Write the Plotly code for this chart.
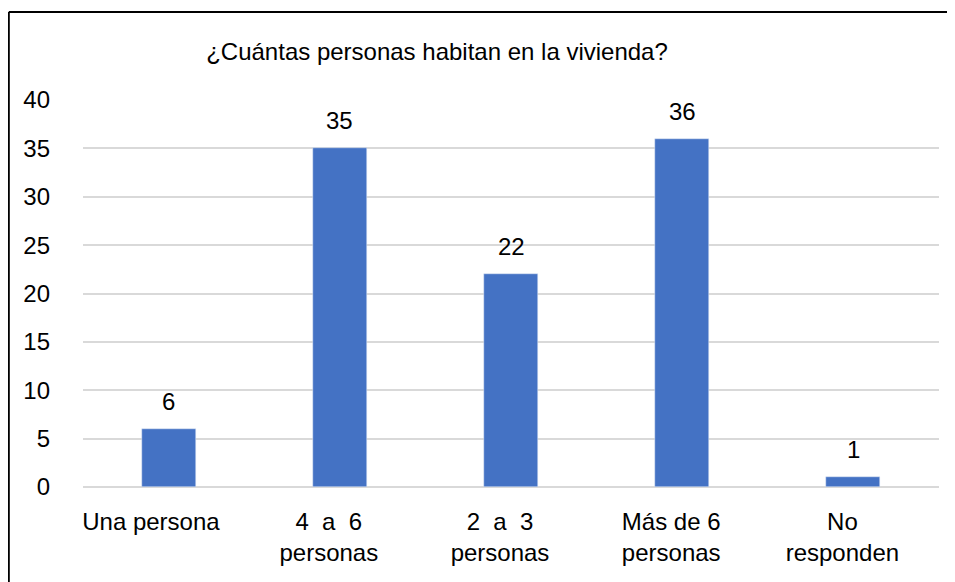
import plotly.graph_objects as go

categories = ["Una persona\u00a0\u00a0", "4  a  6<br>personas", "2  a  3<br>personas", "Más de 6<br>personas", "No<br>responden"]
values = [6, 35, 22, 36, 1]
y_ticks = [0, 5, 10, 15, 20, 25, 30, 35, 40]

FONT = "Liberation Sans, Arial, sans-serif"
# page body has an 8px margin; figure is offset by it and overflow is hidden
W, H = 955, 582
L, R, T, B = 75, 24, 92, 103
pw = W - L - R
ph = H - T - B

def nb(s):
    return s.replace(" ", "\u00a0")

fig = go.Figure(go.Bar(
    x=list(range(len(categories))),
    y=values,
    marker_color="#4472C4",
    width=0.316,
    hoverinfo="skip",
))

for i, v in enumerate(values):
    fig.add_annotation(x=i, y=v, text=str(v), showarrow=False,
                       yanchor="bottom", yshift=12,
                       font=dict(size=24, family=FONT, color="#000000"))

fig.update_layout(
    width=W, height=H,
    margin=dict(l=L, r=R, t=T, b=B),
    plot_bgcolor="white", paper_bgcolor="white",
    font=dict(family=FONT, size=24, color="#000000"),
    title=dict(text="¿Cuántas personas habitan en la vivienda?", x=429 / W, xanchor="center",
               y=1 - 44 / H, yanchor="middle", font=dict(size=24, family=FONT)),
    showlegend=False,
    bargap=0,
)
fig.update_xaxes(
    tickmode="array", tickvals=list(range(len(categories))),
    ticktext=[nb(c) for c in categories],
    range=[-0.5, len(categories) - 0.5],
    showgrid=False, showline=False, zeroline=False, ticks="",
    ticklabelstandoff=18, ticklabelshift=-11,
)
fig.update_yaxes(
    range=[0, 40], tickmode="array", tickvals=y_ticks,
    showgrid=True, gridcolor="#d9d9d9", gridwidth=1.5,
    zeroline=True, zerolinecolor="#d9d9d9", zerolinewidth=1.5,
    showline=False, ticks="", ticklabelstandoff=32,
)
# outer border frame (left and top edges; right and bottom run off the picture)
x0 = (0.8 - L) / pw
x_end = (W - L) / pw
y1 = (H - B - 4) / ph
y_bot = -B / ph
fig.add_shape(type="line", xref="paper", yref="paper",
              x0=x0, x1=x0, y0=y_bot, y1=y1,
              line=dict(color="black", width=2))
fig.add_shape(type="line", xref="paper", yref="paper",
              x0=x0, x1=x_end, y0=y1, y1=y1,
              line=dict(color="black", width=2))

fig.write_html("out.html", config={"displayModeBar": False},
               post_script="document.body.style.overflow='hidden';")
